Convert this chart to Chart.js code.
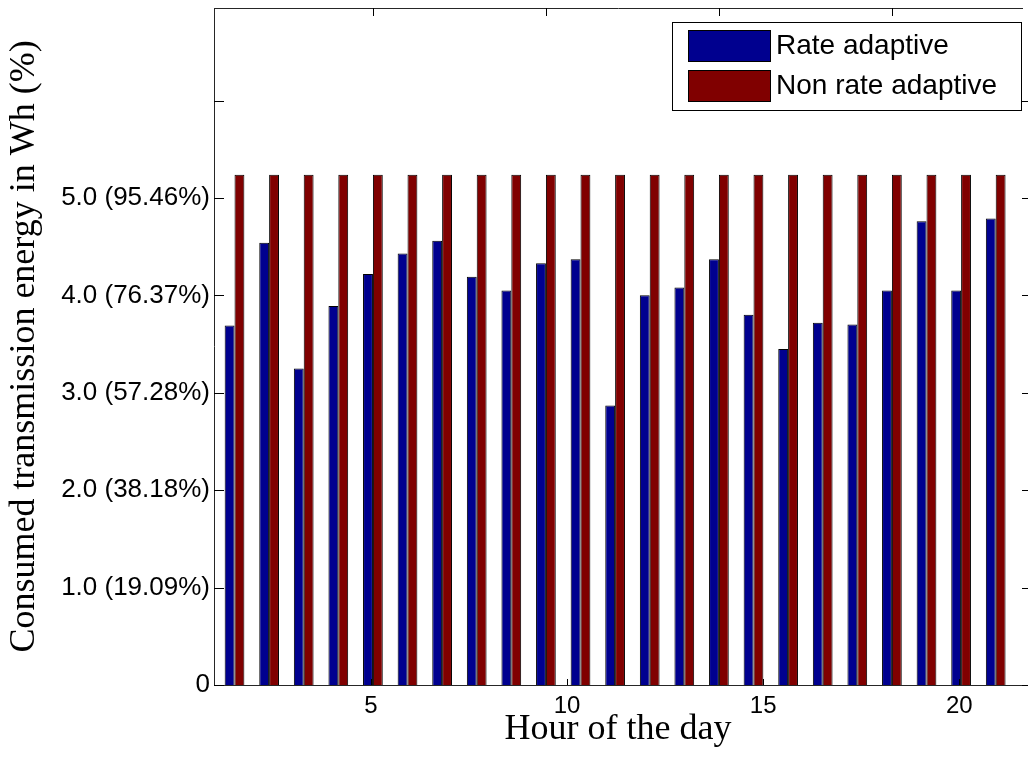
<!DOCTYPE html>
<html>
<head>
<meta charset="utf-8">
<title>Consumed transmission energy</title>
<script src="https://cdn.jsdelivr.net/npm/chart.js@4.4.1/dist/chart.umd.min.js"></script>
<style>
  html, body { margin: 0; padding: 0; background: #fff; }
  #wrap { width: 1028px; height: 764px; }
</style>
</head>
<body>
<div id="wrap"><canvas id="chart" width="1028" height="764"></canvas></div>
<script>
// hour of the day (bar groups)
const hours = [1, 2, 3, 4, 5, 6, 7, 8, 9, 10, 11, 12, 13, 14, 15, 16, 17, 18, 19, 20, 21, 22, 23];

// consumed energy in Wh
const rateAdaptive = [3.69, 4.54, 3.25, 3.89, 4.22, 4.43, 4.56, 4.19, 4.05, 4.33, 4.37, 2.87,
                      4.00, 4.08, 4.37, 3.80, 3.45, 3.72, 3.70, 4.05, 4.76, 4.05, 4.79];
const nonRateAdaptive = [5.238, 5.238, 5.238, 5.238, 5.238, 5.238, 5.238, 5.238, 5.238, 5.238, 5.238, 5.238,
                         5.238, 5.238, 5.238, 5.238, 5.238, 5.238, 5.238, 5.238, 5.238, 5.238, 5.238];

const seriesNames = ["Rate adaptive", "Non rate adaptive"];
const seriesColors = ["#00008F", "#800000"];

// y ticks, labelled with Wh and share of the non adaptive energy
const yTicks = [0, 1, 2, 3, 4, 5, 6];
const yTickLabels = ["0", "1.0 (19.09%)", "2.0 (38.18%)", "3.0 (57.28%)", "4.0 (76.37%)", "5.0 (95.46%)", ""];

// hour axis ticks
const xTicks = [5, 10, 15, 20];

const SANS = "'Liberation Sans', Arial, sans-serif";
const SERIF = "'Liberation Serif', 'Times New Roman', serif";

// axis box with inward ticks, matlab style
const axisFrame = {
  id: "axisFrame",
  afterDatasetsDraw(chart) {
    const { ctx, chartArea: a, scales } = chart;
    ctx.save();
    ctx.lineWidth = 1;
    ctx.strokeStyle = "#262626";
    ctx.beginPath();
    // left, bottom, top
    ctx.moveTo(a.left + 0.5, a.top);
    ctx.lineTo(a.left + 0.5, a.bottom);
    ctx.moveTo(a.left, a.bottom + 0.5);
    ctx.lineTo(chart.width, a.bottom + 0.5);
    ctx.moveTo(a.left, a.top + 0.5);
    ctx.lineTo(a.right + 1, a.top + 0.5);
    ctx.stroke();

    ctx.strokeStyle = "#000";
    ctx.beginPath();
    yTicks.forEach(v => {
      const y = Math.round(scales.y.getPixelForValue(v)) + 0.5;
      ctx.moveTo(a.left, y);
      ctx.lineTo(a.left + 10, y);
      ctx.moveTo(a.right, y);
      ctx.lineTo(a.right + 6, y);
    });
    xTicks.forEach(v => {
      const xt = Math.round(scales.x.getPixelForValue(v)) + 0.5;
      ctx.moveTo(xt, a.top);
      ctx.lineTo(xt, a.top + 8);
      const xb = Math.round(scales.x2.getPixelForValue(v)) + 0.5;
      ctx.moveTo(xb, a.bottom);
      ctx.lineTo(xb, a.bottom - 6);
    });
    ctx.stroke();
    ctx.restore();
  }
};

// boxed legend in the upper right corner
const boxLegend = {
  id: "boxLegend",
  afterDraw(chart) {
    const { ctx, chartArea: a } = chart;
    const right = a.right - 1, top = a.top + 14;
    const w = 349, h = 88;
    const left = right - w;
    ctx.save();
    ctx.fillStyle = "#fff";
    ctx.fillRect(left, top, w, h);
    ctx.strokeStyle = "#000";
    ctx.lineWidth = 1;
    ctx.strokeRect(left + 0.5, top + 0.5, w, h);
    ctx.font = "28px " + SANS;
    ctx.textBaseline = "middle";
    chart.data.datasets.forEach((ds, i) => {
      const sy = top + 8 + i * 40;
      ctx.fillStyle = ds.backgroundColor;
      ctx.fillRect(left + 16, sy, 82, 31);
      ctx.strokeStyle = "#000";
      ctx.strokeRect(left + 16.5, sy + 0.5, 82, 31);
      ctx.fillStyle = "#000";
      ctx.fillText(ds.label, left + 104, sy + 16);
    });
    ctx.restore();
  }
};

const toPoints = vals => hours.map((h, i) => ({ x: h, y: vals[i] }));

const ctx = document.getElementById("chart").getContext("2d");
new Chart(ctx, {
  type: "bar",
  data: {
    datasets: [
      { label: seriesNames[0], data: toPoints(rateAdaptive), backgroundColor: seriesColors[0] },
      { label: seriesNames[1], data: toPoints(nonRateAdaptive), backgroundColor: seriesColors[1] }
    ]
  },
  options: {
    responsive: false,
    animation: false,
    layout: { padding: { left: 0, top: 8, right: 6, bottom: 0 } },
    datasets: {
      bar: {
        categoryPercentage: 0.57,
        barPercentage: 1,
        borderColor: "#000",
        borderWidth: 1,
        xAxisID: "x",
        yAxisID: "y"
      }
    },
    plugins: {
      legend: { display: false },
      tooltip: { enabled: false }
    },
    scales: {
      // bar positions
      x: {
        type: "linear",
        min: 0.407,
        max: 23.76,
        offset: false,
        display: false,
        grid: { offset: false }
      },
      // labelled hour axis
      x2: {
        type: "linear",
        position: "bottom",
        min: 1,
        max: 21.6,
        offset: false,
        grid: { display: false, drawTicks: false, offset: false },
        border: { display: false },
        afterBuildTicks: s => { s.ticks = xTicks.map(v => ({ value: v })); },
        ticks: {
          color: "#000",
          padding: 7,
          maxRotation: 0,
          font: { family: SANS, size: 24 },
          callback: v => String(v)
        },
        title: {
          display: true,
          text: "Hour of the day",
          color: "#000",
          font: { family: SERIF, size: 36 },
          padding: { top: 0, bottom: 13 }
        },
        afterFit: s => {
          s.height = 79;
          s.paddingLeft = 0;
          s.paddingRight = 0;
        }
      },
      y: {
        type: "linear",
        min: 0,
        max: 6.95,
        grid: { display: false, drawTicks: false },
        border: { display: false },
        afterBuildTicks: s => { s.ticks = yTicks.map(v => ({ value: v })); },
        ticks: {
          color: "#000",
          padding: 4,
          font: { family: SANS, size: 26 },
          callback: (v, i) => yTickLabels[i]
        },
        title: {
          display: true,
          text: "Consumed transmission energy in Wh (%)",
          color: "#000",
          font: { family: SERIF, size: 36 },
          padding: { top: 3, bottom: 0 }
        },
        afterFit: s => {
          s.width = 214;
          s.paddingTop = 0;
          s.paddingBottom = 0;
        }
      }
    }
  },
  plugins: [axisFrame, boxLegend]
});
</script>
</body>
</html>
